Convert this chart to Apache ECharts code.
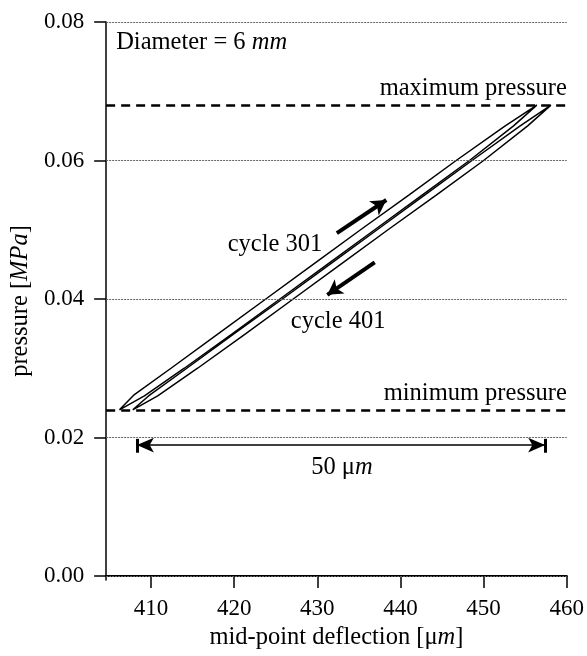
<!DOCTYPE html>
<html>
<head>
<meta charset="utf-8">
<script src="https://cdn.jsdelivr.net/npm/echarts@6.0.0/dist/echarts.min.js"></script>
<style>
  html, body { margin: 0; padding: 0; background: #fff; }
  #chart { width: 587px; height: 656px; }
</style>
</head>
<body>
<div id="chart"></div>
<script>
// ---------------- data ----------------
const xTicks = [410, 420, 430, 440, 450, 460];
const yTicks = [0.00, 0.02, 0.04, 0.06, 0.08];

// cycle 301 (left loop): loading branch then unloading branch [deflection µm, pressure MPa]
const cycle301Load = [
  [406.2, 0.024], [408.0, 0.0262], [412.4, 0.030], [418.1, 0.035], [423.8, 0.040],
  [429.5, 0.045], [435.2, 0.050], [441.0, 0.055], [446.7, 0.060], [452.6, 0.065], [456.4, 0.068]
];
const cycle301Unload = [
  [456.4, 0.068], [453.6, 0.065], [448.3, 0.060], [442.6, 0.055], [436.9, 0.050],
  [431.2, 0.045], [425.5, 0.040], [419.8, 0.035], [414.0, 0.030], [409.2, 0.026], [406.2, 0.024]
];
// cycle 401 (right loop)
const cycle401Load = [
  [407.8, 0.024], [409.7, 0.026], [414.3, 0.030], [420.0, 0.035], [425.8, 0.040],
  [431.5, 0.045], [437.2, 0.050], [442.9, 0.055], [448.6, 0.060], [454.4, 0.065], [458.1, 0.068]
];
const cycle401Unload = [
  [458.1, 0.068], [455.3, 0.065], [450.0, 0.060], [444.3, 0.055], [438.5, 0.050],
  [432.8, 0.045], [427.1, 0.040], [421.4, 0.035], [415.6, 0.030], [410.8, 0.026], [407.8, 0.024]
];

const limitNames = ['maximum pressure', 'minimum pressure'];
const limitValues = [0.068, 0.024];

const spanStart = 408.3;   // 50 µm span marker
const spanEnd = 457.4;

// ---------------- layout / style ----------------
const FONT = 'Liberation Serif';
const FS = 23;     // tick labels
const FT = 24.5;   // titles and annotations
const axisRange = { xMin: 404.6, xMax: 460, yMin: -0.00058, yMax: 0.08 };
const anno = {
  diameter: [405.8, 0.0770],
  c301: [424.9, 0.0478],
  c401: [432.5, 0.0367],
  arrowUp: [[432.35, 0.0495], [438.3, 0.0543]],
  arrowDown: [[436.9, 0.0453], [431.2, 0.0406]],
  spanY: 0.0189, spanBar: [0.0178, 0.0198],
  spanText: [432.95, 0.0156]
};

const rich = {
  it: { fontFamily: FONT, fontSize: FT, fontStyle: 'italic', color: '#000' }
};

const chart = echarts.init(document.getElementById('chart'), null, { renderer: 'canvas' });

const loop = (a, b) => a.concat(b.slice(1));

const option = {
  animation: false,
  backgroundColor: '#fff',
  textStyle: { fontFamily: FONT, color: '#000' },
  grid: { left: 105, right: 19, top: 22, bottom: 76, containLabel: false },
  xAxis: {
    type: 'value',
    min: axisRange.xMin, max: axisRange.xMax,
    name: 'mid-point deflection [\u03bc{it|m}]',
    nameLocation: 'middle', nameGap: 41,
    nameTextStyle: { fontFamily: FONT, fontSize: FT, color: '#000', rich: rich },
    axisLine: { show: true, lineStyle: { color: '#000', width: 2.2 } },
    axisTick: { show: true, length: 12, customValues: xTicks, lineStyle: { color: '#000', width: 1.5 } },
    axisLabel: { customValues: xTicks, margin: 17, fontFamily: FONT, fontSize: FS, color: '#000' },
    splitLine: { show: false }
  },
  yAxis: {
    type: 'value',
    min: axisRange.yMin, max: axisRange.yMax,
    name: 'pressure [{it|MPa}]',
    nameLocation: 'middle', nameGap: 70,
    nameTextStyle: { fontFamily: FONT, fontSize: FT, color: '#000', rich: rich },
    axisLine: { show: true, lineStyle: { color: '#000', width: 1.5 } },
    axisTick: { show: true, length: 12, customValues: yTicks, lineStyle: { color: '#000', width: 1.5 } },
    axisLabel: { customValues: yTicks, margin: 22, fontFamily: FONT, fontSize: FS, color: '#000',
      formatter: v => v.toFixed(2) },
    splitLine: { show: false }
  },
  series: [
    { // grid lines
      type: 'line', data: [], silent: true,
      markLine: {
        silent: true, symbol: 'none', animation: false, precision: 6,
        label: { show: false },
        lineStyle: { color: '#666', width: 1, type: [2, 1] },
        data: yTicks.map(v => ({ yAxis: v }))
      }
    },
    { // pressure limits
      type: 'line', data: [], silent: true,
      markLine: {
        silent: true, symbol: 'none', animation: false, precision: 6,
        lineStyle: { color: '#000', width: 2.5, type: [9, 6] },
        label: { show: true, position: 'insideEndTop', distance: [0, 4],
          fontFamily: FONT, fontSize: FT, color: '#000', textBorderWidth: 0,
          formatter: p => p.name },
        data: limitValues.map((v, i) => ({ yAxis: v, name: limitNames[i] }))
      }
    },
    {
      name: 'cycle 301', type: 'line', data: loop(cycle301Load, cycle301Unload),
      showSymbol: false, symbol: 'none', smooth: false,
      lineStyle: { color: '#000', width: 1.5 }
    },
    {
      name: 'cycle 401', type: 'line', data: loop(cycle401Load, cycle401Unload),
      showSymbol: false, symbol: 'none', smooth: false,
      lineStyle: { color: '#000', width: 1.5 }
    },
    { // direction arrows
      type: 'line', data: [], silent: true,
      markLine: {
        silent: true, animation: false, precision: 6,
        symbol: ['none', 'arrow'], symbolSize: [13, 15],
        label: { show: false },
        lineStyle: { color: '#000', width: 4, type: 'solid' },
        data: [
          [{ coord: anno.arrowUp[0] }, { coord: anno.arrowUp[1] }],
          [{ coord: anno.arrowDown[0] }, { coord: anno.arrowDown[1] }]
        ]
      }
    },
    { // 50 µm span arrow
      type: 'line', data: [], silent: true,
      markLine: {
        silent: true, animation: false, precision: 6,
        symbol: ['arrow', 'arrow'], symbolSize: [11, 17],
        label: { show: false },
        lineStyle: { color: '#000', width: 1.5, type: 'solid' },
        data: [
          [{ coord: [spanStart, anno.spanY] }, { coord: [spanEnd, anno.spanY] }]
        ]
      }
    },
    { // span end bars
      type: 'line', data: [], silent: true,
      markLine: {
        silent: true, animation: false, symbol: 'none', precision: 6,
        label: { show: false },
        lineStyle: { color: '#000', width: 3, type: 'solid' },
        data: [
          [{ coord: [spanStart, anno.spanBar[0]] }, { coord: [spanStart, anno.spanBar[1]] }],
          [{ coord: [spanEnd, anno.spanBar[0]] }, { coord: [spanEnd, anno.spanBar[1]] }]
        ]
      }
    },
    { // text annotations
      type: 'scatter', symbolSize: 0, silent: true,
      itemStyle: { color: '#000', opacity: 1 },
      label: { show: true, fontFamily: FONT, fontSize: FT, color: '#000', rich: rich,
        textBorderWidth: 0, position: 'inside', formatter: p => p.name },
      data: [
        { value: anno.diameter, name: 'Diameter = 6 {it|mm}', label: { position: 'right', distance: 0 } },
        { value: anno.c301, name: 'cycle 301' },
        { value: anno.c401, name: 'cycle 401' },
        { value: anno.spanText, name: '50 \u03bc{it|m}' }
      ]
    }
  ]
};

chart.setOption(option);
</script>
</body>
</html>
